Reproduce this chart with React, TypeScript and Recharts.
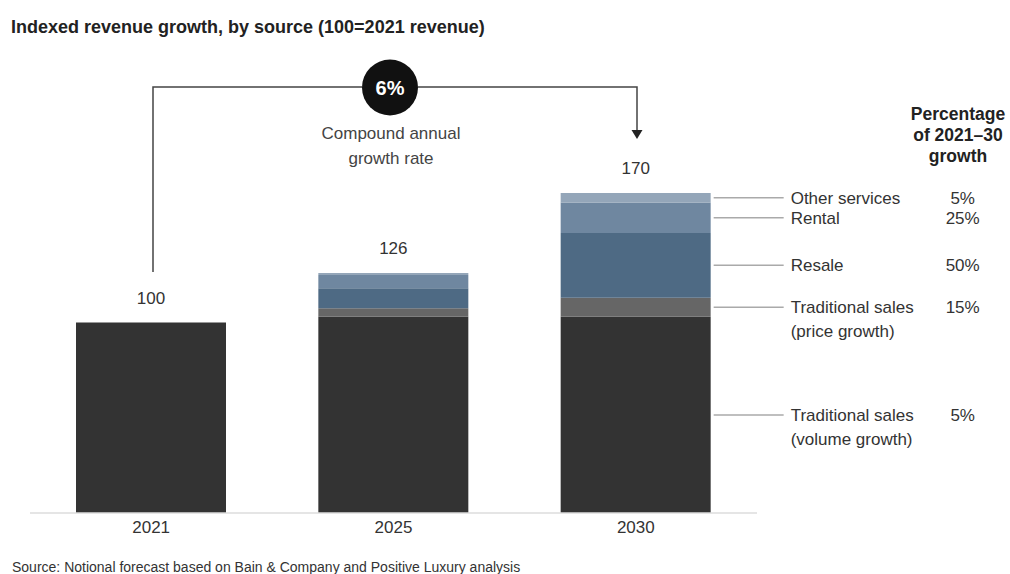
import React from 'react';
import { BarChart, Bar, XAxis, YAxis, LabelList } from 'recharts';

const years = ['2021', '2025', '2030'];
const volumeGrowth = [100, 103, 103];
const priceGrowth = [0, 4.5, 10];
const resale = [0, 10.5, 34];
const rental = [0, 7, 16];
const otherServices = [0, 1, 5];
const totals = [100, 126, 170];

const seriesKeys = ['volume', 'price', 'resale', 'rental', 'other'];
const seriesValues = [volumeGrowth, priceGrowth, resale, rental, otherServices];
const seriesColors = ['#333333', '#666666', '#4e6a84', '#6f87a0', '#94a6b9'];
const seriesLabels = [
  ['Traditional sales', '(volume growth)'],
  ['Traditional sales', '(price growth)'],
  ['Resale'],
  ['Rental'],
  ['Other services'],
];
const seriesShares = ['5%', '15%', '50%', '25%', '5%'];

const data = years.map((year, i) => ({
  year,
  volume: volumeGrowth[i],
  price: priceGrowth[i],
  resale: resale[i],
  rental: rental[i],
  other: otherServices[i],
}));

const FONT = '"Liberation Sans", Arial, Helvetica, sans-serif';
const FS = 17;
const LAST_YEAR = years[years.length - 1];

const isTopSegment = (s: number, yearIdx: number) =>
  seriesValues.slice(s + 1).every((arr) => !arr[yearIdx]);

const makeLabels = (s: number) => (props: any) => {
  const { x, y, width, height, value } = props;
  const yearIdx = years.indexOf(String(value));
  const x0 = Number(x) + Number(width);
  const cy = Number(y) + Number(height) / 2;
  const parts: React.ReactNode[] = [];
  if (yearIdx >= 0 && isTopSegment(s, yearIdx)) {
    parts.push(
      <text key="tot" x={Number(x) + Number(width) / 2} y={Number(y) - 19} textAnchor="middle" fontSize={FS} fill="#333" fontFamily={FONT}>
        {totals[yearIdx]}
      </text>
    );
  }
  if (String(value) === LAST_YEAR) {
    parts.push(
      <line key="ln" x1={x0 + 3} x2={x0 + 73} y1={cy} y2={cy} stroke="#aaaaaa" strokeWidth={1.5} />
    );
    seriesLabels[s].forEach((t, k) => {
      parts.push(
        <text key={'t' + k} x={x0 + 80} y={cy + k * 24} dy="0.35em" fontSize={FS} fill="#333" fontFamily={FONT}>
          {t}
        </text>
      );
    });
    parts.push(
      <text key="pct" x={x0 + 252} y={cy} dy="0.35em" fontSize={FS} fill="#333" textAnchor="middle" fontFamily={FONT}>
        {seriesShares[s]}
      </text>
    );
  }
  return <g>{parts}</g>;
};

export default function App() {
  return (
    <div style={{ position: 'absolute', left: 0, top: 0, width: 1010, height: 574, background: '#fff', fontFamily: FONT }}>
      <BarChart width={1010} height={574} data={data} margin={{ top: 132, right: 253, bottom: 31, left: 30 }} barSize={150}>
        <XAxis
          dataKey="year"
          axisLine={{ stroke: '#dddddd', strokeWidth: 1.5 }}
          tickLine={false}
          tick={{ fill: '#333', fontSize: FS, fontFamily: FONT }}
        />
        <YAxis hide domain={[0, 200]} />
        {seriesKeys.map((k, s) => (
          <Bar key={k} dataKey={k} stackId="a" fill={seriesColors[s]} isAnimationActive={false}>
            <LabelList dataKey="year" content={makeLabels(s)} />
          </Bar>
        ))}
      </BarChart>
      <svg width={1010} height={574} style={{ position: 'absolute', left: 0, top: 0, pointerEvents: 'none' }}>
        <text x={11} y={33} fontSize={18} fontWeight="bold" fill="#222" fontFamily={FONT}>
          Indexed revenue growth, by source (100=2021 revenue)
        </text>
        <path d="M153,272 V87 H362 M418,87 H637 V131" fill="none" stroke="#444" strokeWidth={1.5} />
        <path d="M631.5,130 L642.5,130 L637,139 Z" fill="#222" />
        <circle cx={390} cy={87.5} r={28} fill="#111" />
        <text x={390} y={87.5} dy="0.35em" textAnchor="middle" fontSize={20} fontWeight="bold" fill="#fff" fontFamily={FONT}>
          6%
        </text>
        <text x={391} y={139} textAnchor="middle" fontSize={FS} fill="#444" fontFamily={FONT}>
          Compound annual
        </text>
        <text x={391} y={164} textAnchor="middle" fontSize={FS} fill="#444" fontFamily={FONT}>
          growth rate
        </text>
        <text x={958} y={120} textAnchor="middle" fontSize={17.5} fontWeight="bold" fill="#222" fontFamily={FONT}>
          Percentage
        </text>
        <text x={958} y={141} textAnchor="middle" fontSize={17.5} fontWeight="bold" fill="#222" fontFamily={FONT}>
          of 2021–30
        </text>
        <text x={958} y={162} textAnchor="middle" fontSize={17.5} fontWeight="bold" fill="#222" fontFamily={FONT}>
          growth
        </text>
        <text x={12} y={572} fontSize={14} fill="#333" fontFamily={FONT}>
          Source: Notional forecast based on Bain &amp; Company and Positive Luxury analysis
        </text>
      </svg>
    </div>
  );
}
